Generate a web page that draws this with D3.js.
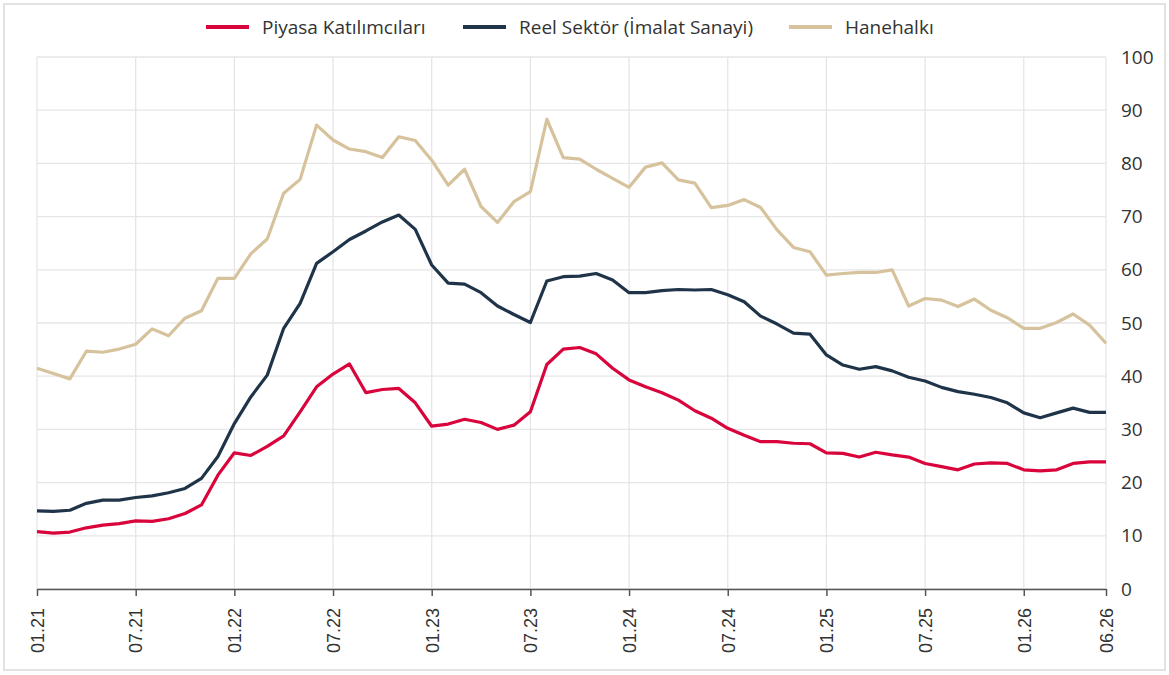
<!DOCTYPE html>
<html>
<head>
<meta charset="utf-8">
<script src="https://cdn.jsdelivr.net/npm/d3@7"></script>
<style>
  body { margin: 0; background: #fff; }
  svg { display: block; }
</style>
</head>
<body>
<svg id="chart" width="1169" height="675"></svg>
<script>
// monthly, 01.21 .. 06.26
var months = d3.timeMonth
  .range(new Date(2021, 0, 1), new Date(2026, 6, 1))
  .map(d3.timeFormat('%m.%y'));

var tickLabels = ['01.21', '07.21', '01.22', '07.22', '01.23', '07.23',
  '01.24', '07.24', '01.25', '07.25', '01.26', '06.26'];

var yTicks = [0, 10, 20, 30, 40, 50, 60, 70, 80, 90, 100];

var piyasa = [10.8, 10.5, 10.7, 11.5, 12.0, 12.3, 12.8, 12.7, 13.2, 14.2, 15.8, 21.4,
  25.6, 25.1, 26.8, 28.8, 33.3, 38.0, 40.4, 42.3, 36.9, 37.5, 37.7, 35.0,
  30.6, 31.0, 31.9, 31.3, 30.0, 30.8, 33.3, 42.2, 45.1, 45.4, 44.2, 41.5,
  39.3, 38.0, 36.9, 35.5, 33.5, 32.1, 30.2, 28.9, 27.7, 27.7, 27.4, 27.3,
  25.6, 25.5, 24.8, 25.7, 25.2, 24.8, 23.6, 23.0, 22.4, 23.5, 23.7, 23.6,
  22.4, 22.2, 22.4, 23.6, 23.9, 23.9];

var reelSektor = [14.7, 14.6, 14.8, 16.1, 16.7, 16.7, 17.2, 17.5, 18.1, 18.9, 20.8, 24.9,
  31.1, 36.1, 40.2, 49.0, 53.7, 61.2, 63.4, 65.7, 67.3, 69.0, 70.3, 67.6,
  60.9, 57.5, 57.3, 55.7, 53.2, 51.6, 50.1, 57.9, 58.7, 58.8, 59.3, 58.1,
  55.7, 55.7, 56.1, 56.3, 56.2, 56.3, 55.3, 54.0, 51.3, 49.8, 48.1, 47.9,
  44.0, 42.1, 41.3, 41.8, 41.0, 39.8, 39.1, 37.9, 37.1, 36.6, 36.0, 35.0,
  33.1, 32.2, 33.1, 34.0, 33.2, 33.2];

var hanehalki = [41.5, 40.5, 39.5, 44.7, 44.5, 45.1, 46.0, 48.9, 47.6, 50.9, 52.3, 58.4,
  58.4, 63.0, 65.8, 74.4, 77.0, 87.2, 84.4, 82.7, 82.2, 81.1, 85.0, 84.3,
  80.6, 75.9, 78.9, 71.9, 68.9, 72.8, 74.7, 88.3, 81.1, 80.8, 78.9, 77.2,
  75.5, 79.3, 80.1, 76.9, 76.3, 71.7, 72.1, 73.2, 71.7, 67.5, 64.2, 63.4,
  59.0, 59.3, 59.5, 59.5, 60.0, 53.2, 54.6, 54.3, 53.1, 54.5, 52.4, 51.0,
  49.0, 49.0, 50.1, 51.7, 49.6, 46.2];

var seriesNames = ['Piyasa Katılımcıları', 'Reel Sektör (İmalat Sanayi)', 'Hanehalkı'];
var seriesColors = ['#d9043c', '#1f3448', '#d6c29c'];

var series = [piyasa, reelSektor, hanehalki].map(function (values, i) {
  return { name: seriesNames[i], color: seriesColors[i], values: values };
});

var svg = d3.select('#chart');
var margin = { left: 37, right: 63, top: 57, bottom: 86 };
var width = 1169 - margin.left - margin.right;
var height = 675 - margin.top - margin.bottom;

// outer frame
svg.append('rect')
  .attr('x', 4).attr('y', 4)
  .attr('width', 1161).attr('height', 666)
  .attr('fill', '#fff')
  .attr('stroke', '#e2e2e2')
  .attr('stroke-width', 2);

var x = d3.scalePoint().domain(months).range([0, width]);
var y = d3.scaleLinear().domain([0, 100]).range([height, 0]);

var g = svg.append('g')
  .attr('transform', `translate(${margin.left},${margin.top})`);

// grid
g.append('g').selectAll('line')
  .data(yTicks)
  .join('line')
  .attr('x1', 0).attr('x2', width)
  .attr('y1', y).attr('y2', y)
  .attr('stroke', '#e6e6e6')
  .attr('stroke-width', 1.3);

g.append('g').selectAll('line')
  .data(tickLabels)
  .join('line')
  .attr('x1', x).attr('x2', x)
  .attr('y1', 0).attr('y2', height)
  .attr('stroke', '#e6e6e6')
  .attr('stroke-width', 1.3);

// x axis
var xAxis = g.append('g')
  .attr('transform', `translate(0,${height})`)
  .call(d3.axisBottom(x).tickValues(tickLabels).tickSize(7).tickSizeOuter(0));
xAxis.select('.domain').attr('stroke', '#555').attr('stroke-width', 1.5);
xAxis.selectAll('.tick line').attr('stroke', '#555').attr('stroke-width', 1.5);
xAxis.selectAll('.tick text')
  .attr('font-family', '"Liberation Sans", Arial, sans-serif')
  .attr('font-size', 18)
  .attr('fill', '#333')
  .attr('transform', 'rotate(-90)')
  .attr('text-anchor', 'end')
  .attr('x', -19)
  .attr('y', 0)
  .attr('dy', '0.35em');

// y axis on the right, labels only
var yAxis = g.append('g')
  .attr('transform', `translate(${width},0)`)
  .call(d3.axisRight(y).tickValues(yTicks).tickSize(0).tickPadding(15));
yAxis.select('.domain').remove();
yAxis.selectAll('.tick text')
  .attr('font-family', '"Open Sans", sans-serif')
  .attr('font-size', 19)
  .attr('fill', '#333');

// lines
var line = d3.line()
  .x(function (d, i) { return x(months[i]); })
  .y(function (d) { return y(d); });

g.append('g').selectAll('path')
  .data(series.slice().reverse())
  .join('path')
  .attr('fill', 'none')
  .attr('stroke', function (s) { return s.color; })
  .attr('stroke-width', 3.2)
  .attr('stroke-linejoin', 'round')
  .attr('d', function (s) { return line(s.values); });

// legend
var legendX = [206, 463, 789];
var legend = svg.append('g').selectAll('g')
  .data(series)
  .join('g')
  .attr('transform', function (s, i) { return `translate(${legendX[i]},27)`; });
legend.append('line')
  .attr('x1', 0).attr('x2', 43)
  .attr('stroke', function (s) { return s.color; })
  .attr('stroke-width', 4);
legend.append('text')
  .attr('x', 56)
  .attr('dy', '0.35em')
  .attr('font-family', '"Open Sans", sans-serif')
  .attr('font-size', 19)
  .attr('fill', '#333')
  .text(function (s) { return s.name; });
</script>
</body>
</html>
